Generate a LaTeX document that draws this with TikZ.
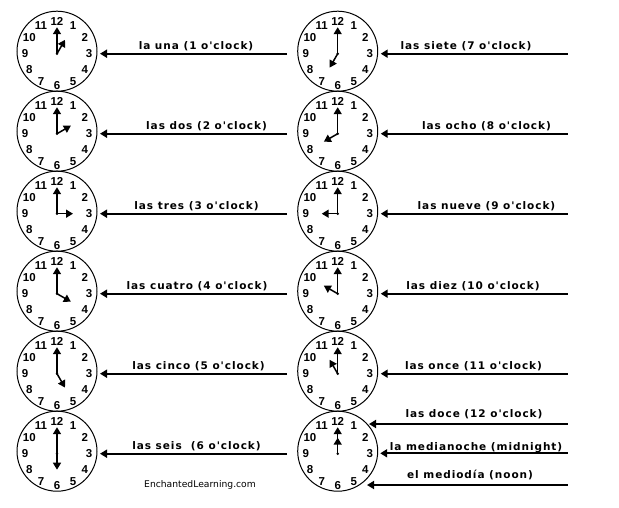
\documentclass[tikz,border=0pt]{standalone}
\usepackage{fontspec}
\usetikzlibrary{arrows.meta,calc}
\newfontfamily\lblfont{DejaVu Sans}[LetterSpace=9]
\newfontfamily\numfont{Liberation Sans}
\newfontfamily\webfont{DejaVu Sans}

\tikzset{
  clock/.style={draw, circle, line width=1pt, minimum size=80pt, inner sep=0pt},
  num/.style={font=\numfont\bfseries\fontsize{11.5}{11.5}\selectfont, inner sep=0pt},
  hand/.style={line width=1.5pt, -{Triangle[width=8pt,length=7pt]}},
  conn/.style={line width=2pt, -{Triangle[width=8pt,length=7pt]}},
  lbl/.style={font=\lblfont\bfseries\fontsize{10.5}{10.5}\selectfont, inner sep=0pt, anchor=base},
}

\begin{document}
\begin{tikzpicture}[x=1pt,y=-1pt]
\path[fill=white] (0,0) rectangle (619,507);
% clock faces
\foreach \h/\x/\y in {1/57/53.7, 2/57/133.7, 3/57/213.7, 4/57/293.7, 5/57/373.7, 6/57/453.7,
                      7/337.7/53.7, 8/337.7/133.7, 9/337.7/213.7, 10/337.7/293.7, 11/337.7/373.7, 12/337.7/453.7}{
  \coordinate (piv\h) at (\x,\y);
  \node[clock] (clk\h) at (\x,\y-2.5) {};
  \foreach \n in {1,...,12}
    \node[num] at ($(piv\h)+({32*sin(30*\n)},{-32*cos(30*\n)})$) {\n};
  \draw[hand] (piv\h) -- ++(0,-26.5);
  \draw[hand] (piv\h) -- ++({16*sin(30*\h)},{-16*cos(30*\h)});
  \fill (piv\h) circle (1.4);
}
% names pointing at the clocks
\foreach \h/\lx/\txt in {1/139/la una (1 o'clock), 2/149.5/las dos (2 o'clock),
                         3/139.5/las tres (3 o'clock), 4/140/las cuatro (4 o'clock),
                         5/141.5/las cinco (5 o'clock), 6/139.5/las seis~~(6 o'clock),
                         7/128.3/las siete (7 o'clock), 8/148.8/las ocho (8 o'clock),
                         9/148.8/las nueve (9 o'clock), 10/135.3/las diez (10 o'clock),
                         11/135.8/las once (11 o'clock)}{
  \coordinate (src\h) at ($(piv\h)+(230,0)$);
  \coordinate (tip\h) at ($(piv\h)+(43,0)$);
  \draw[conn] (src\h) -- (tip\h);
  \node[lbl] (lbl\h) at ($(piv\h)+(\lx,-4.7)$) {\txt};
}
% twelve o'clock gets three names
\coordinate (srcA) at ($(piv12)+(230,-29.7)$);
\coordinate (tipA) at ($(piv12)+(31.3,-29.7)$);
\coordinate (srcB) at ($(piv12)+(230,-0.4)$);
\coordinate (tipB) at ($(piv12)+(42.5,-0.4)$);
\coordinate (srcC) at ($(piv12)+(230,31.3)$);
\coordinate (tipC) at ($(piv12)+(29.3,31.3)$);
\draw[conn] (srcA) -- (tipA);
\draw[conn] (srcB) -- (tipB);
\draw[conn] (srcC) -- (tipC);
\node[lbl] (lblA) at ($(piv12)+(136.3,-36)$) {las doce (12 o'clock)};
\node[lbl] (lblB) at ($(piv12)+(138.3,-3.7)$) {la medianoche (midnight)};
\node[lbl] (lblC) at ($(piv12)+(132.3,24.6)$) {el mediodía (noon)};

\node[font=\webfont\fontsize{9.2}{9.2}\selectfont, anchor=base, inner sep=0pt] (web) at (200,487.5) {EnchantedLearning.com};
\end{tikzpicture}
\end{document}
